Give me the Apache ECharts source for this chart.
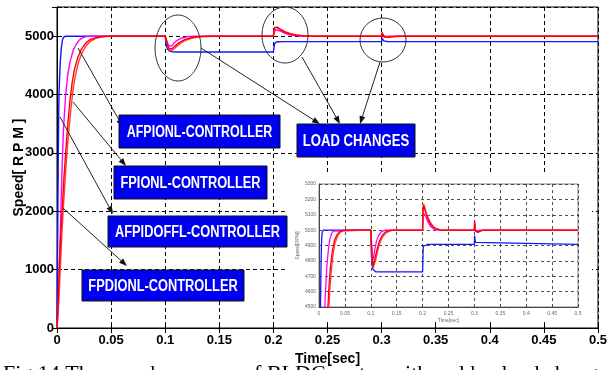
<!DOCTYPE html>
<html><head><meta charset="utf-8">
<script src="https://cdn.jsdelivr.net/npm/echarts@6/dist/echarts.min.js"></script>
<style>html,body{margin:0;padding:0;background:#fff}#c{width:608px;height:370px}</style>
</head><body><div id="c"></div>
<script>
// ---- data (time [s], speed [RPM]) ----
const xTicks = [0, 0.05, 0.1, 0.15, 0.2, 0.25, 0.3, 0.35, 0.4, 0.45, 0.5];
const yTicks = [0, 1000, 2000, 3000, 4000, 5000];
const insetYTicks = [4500, 4600, 4700, 4800, 4900, 5000, 5100, 5200, 5300];

const blueSpeed = [[0,0],[0.0004,900],[0.0008,2000],[0.0012,3000],[0.0016,3700],[0.002,4100],[0.003,4550],[0.004,4800],[0.005,4930],[0.006,4980],[0.008,5000],
  [0.1,5000],[0.1008,4870],[0.102,4780],[0.104,4745],[0.107,4732],[0.11,4728],[0.2,4728],[0.2005,4800],[0.201,4870],[0.2015,4895],[0.203,4905],[0.21,4907],
  [0.3,4907],[0.3004,4965],[0.3008,4950],[0.302,4920],[0.305,4908],[0.5,4907]];

const magentaSpeed = [[0,0],[0.001,300],[0.002,900],[0.003,1600],[0.004,2300],[0.005,2900],[0.006,3400],[0.008,4000],[0.01,4350],[0.012,4560],[0.015,4760],[0.018,4870],[0.021,4940],[0.024,4975],[0.027,4993],[0.03,5000],
  [0.1,5000],[0.1015,4920],[0.103,4840],[0.1045,4810],[0.106,4830],[0.108,4880],[0.111,4930],[0.115,4965],[0.12,4988],[0.126,4998],[0.13,5000],
  [0.2,5000],[0.2008,5060],[0.2016,5110],[0.203,5120],[0.206,5090],[0.21,5055],[0.215,5025],[0.22,5010],[0.226,5002],[0.23,5000],
  [0.3,5000],[0.3005,5040],[0.301,5010],[0.303,4995],[0.306,4998],[0.31,5000],[0.5,5000]];

const redSpeedA = [[0,0],[0.001,400],[0.002,1000],[0.0035,1600],[0.005,2100],[0.0065,2600],[0.008,3000],[0.01,3500],[0.012,3900],[0.014,4200],[0.016,4420],[0.019,4620],[0.022,4760],[0.026,4870],[0.03,4935],[0.035,4972],[0.04,4990],[0.045,4997],[0.05,5000],
  [0.1,5000],[0.1015,4900],[0.103,4800],[0.1045,4770],[0.106,4780],[0.109,4830],[0.113,4890],[0.118,4940],[0.123,4970],[0.128,4987],[0.134,4996],[0.14,5000],
  [0.2,5000],[0.2005,5080],[0.201,5140],[0.2018,5160],[0.203,5150],[0.206,5115],[0.21,5075],[0.215,5040],[0.22,5020],[0.226,5008],[0.233,5002],[0.24,5000],
  [0.3,5000],[0.3004,5065],[0.3008,5040],[0.302,4995],[0.304,4982],[0.307,4985],[0.312,4995],[0.318,5000],[0.5,5000]];

const redSpeedB = [[0,0],[0.0015,400],[0.003,1000],[0.0045,1600],[0.006,2100],[0.0075,2550],[0.009,2950],[0.011,3400],[0.013,3780],[0.015,4100],[0.017,4330],[0.02,4560],[0.023,4710],[0.027,4840],[0.031,4915],[0.036,4962],[0.041,4985],[0.047,4996],[0.053,5000],
  [0.1,5000],[0.1015,4880],[0.103,4790],[0.105,4755],[0.107,4765],[0.11,4815],[0.114,4875],[0.119,4930],[0.124,4962],[0.13,4984],[0.137,4995],[0.145,5000],
  [0.2,5000],[0.2005,5090],[0.201,5150],[0.202,5170],[0.2035,5155],[0.207,5115],[0.211,5078],[0.216,5045],[0.221,5022],[0.227,5009],[0.235,5002],[0.242,5000],
  [0.3,5000],[0.3004,5050],[0.301,5020],[0.302,4992],[0.304,4985],[0.308,4990],[0.313,4997],[0.32,5000],[0.5,5000]];

const controllerLabels = ['AFPIONL-CONTROLLER', 'FPIONL-CONTROLLER', 'AFPIDOFFL-CONTROLLER', 'FPDIONL-CONTROLLER'];
const loadLabel = 'LOAD CHANGES';
const xName = 'Time[sec]';
const yName = 'Speed[ R P M ]';
const caption = 'Fig.14 The speed response of BLDC motor with sudden load changes';

// ---- chart ----
const FONT = "'Liberation Sans',Arial,sans-serif";
const chart = echarts.init(document.getElementById('c'), null, {renderer: 'canvas'});

const fmt = v => String(+v.toFixed(2));
const dashed = {show: true, lineStyle: {color: '#000', type: [4, 3], width: 1}};
const insetDashed = {show: true, lineStyle: {color: '#222', type: [3, 3], width: 0.8}};

function arrow(x1, y1, x2, y2) {
  const a = Math.atan2(y2 - y1, x2 - x1), L = 8, W = 3;
  const bx = x2 - L * Math.cos(a), by = y2 - L * Math.sin(a);
  return [
    {type: 'line', z: 20, shape: {x1, y1, x2: bx, y2: by}, style: {stroke: '#222', lineWidth: 1}},
    {type: 'polygon', z: 20, shape: {points: [[x2, y2], [bx + W * Math.sin(a), by - W * Math.cos(a)], [bx - W * Math.sin(a), by + W * Math.cos(a)]]}, style: {fill: '#111'}}
  ];
}
function box(x1, y1, x2, y2, label, size, sx) {
  return [
    {type: 'rect', z: 20, shape: {x: x1, y: y1, width: x2 - x1, height: y2 - y1}, style: {fill: '#0000f0', stroke: '#111', lineWidth: 1}},
    {type: 'text', z: 21, x: (x1 + x2) / 2, y: (y1 + y2) / 2 + 1, scaleX: sx, scaleY: 1,
     style: {text: label, x: 0, y: 0, align: 'center', verticalAlign: 'middle', fill: '#fff', fontSize: size, fontWeight: 'bold', fontFamily: FONT}}
  ];
}

const graphics = [].concat(
  [{type: 'rect', z: 5, shape: {x: 287, y: 174, width: 305, height: 147}, style: {fill: '#fff'}}],
  [{type: 'ellipse', z: 20, shape: {cx: 178, cy: 48, rx: 23, ry: 33}, style: {fill: 'none', stroke: '#333', lineWidth: 1}},
   {type: 'ellipse', z: 20, shape: {cx: 285, cy: 35, rx: 23, ry: 28}, style: {fill: 'none', stroke: '#333', lineWidth: 1}},
   {type: 'ellipse', z: 20, shape: {cx: 383, cy: 40, rx: 23, ry: 22}, style: {fill: 'none', stroke: '#333', lineWidth: 1}}],
  arrow(201, 48, 320, 124), arrow(302, 57, 340, 124), arrow(380, 62, 360, 124),
  arrow(78, 48, 123, 127), arrow(73, 102, 126, 166), arrow(60, 117, 113, 214), arrow(63, 208, 127, 266),
  box(119, 115, 280, 148, controllerLabels[0], 16, 0.78),
  box(114, 166, 267, 199, controllerLabels[1], 16, 0.8),
  box(108, 216, 287, 247, controllerLabels[2], 16, 0.8),
  box(82, 270, 244, 301, controllerLabels[3], 16, 0.8),
  box(297, 124, 415, 157, loadLabel, 16, 0.82),
  [{type: 'text', z: 20, style: {text: caption, x: 3, y: 363, fill: '#000', fontSize: 22, fontFamily: "'Liberation Serif','Times New Roman',serif"}}]
);

const mainSeries = [
  {data: blueSpeed, color: '#1515ff'},
  {data: magentaSpeed, color: '#ff00ff'},
  {data: redSpeedB, color: '#ff3b3b'},
  {data: redSpeedA, color: '#ff0000'}
];

const option = {
  animation: false,
  backgroundColor: '#fff',
  grid: [
    {left: 57, right: 10, top: 7, bottom: 42, outerBoundsMode: 'none', containLabel: false, show: true, borderColor: '#000', borderWidth: 1, backgroundColor: 'transparent'},
    {left: 319, top: 184, width: 259, height: 123, outerBoundsMode: 'none', containLabel: false, show: true, borderColor: '#888', borderWidth: 1, z: 6}
  ],
  xAxis: [
    {type: 'value', gridIndex: 0, min: 0, max: 0.5, interval: 0.05, position: 'bottom',
     axisLine: {show: true, lineStyle: {color: '#000', width: 1}}, axisTick: {show: true, inside: true, length: 5, lineStyle: {color: '#000'}},
     axisLabel: {color: '#000', fontSize: 13, fontWeight: 'bold', fontFamily: FONT, margin: 6, formatter: fmt, showMaxLabel: true},
     splitLine: dashed,
     name: xName, nameLocation: 'middle', nameGap: 23, nameTextStyle: {color: '#000', fontSize: 14, fontWeight: 'bold', fontFamily: FONT}},
    {type: 'value', gridIndex: 0, min: 0, max: 0.5, interval: 0.05, position: 'top',
     axisLine: {show: false}, axisTick: {show: true, inside: true, length: 5, lineStyle: {color: '#000'}}, axisLabel: {show: false}, splitLine: {show: false}},
    {type: 'value', gridIndex: 1, min: 0, max: 0.5, interval: 0.05, z: 6,
     axisLine: {show: true, lineStyle: {color: '#444', width: 1}}, axisTick: {show: false},
     axisLabel: {color: '#666', fontSize: 5, margin: 4, formatter: fmt},
     splitLine: insetDashed,
     name: xName, nameLocation: 'middle', nameGap: 11, nameTextStyle: {color: '#666', fontSize: 5}}
  ],
  yAxis: [
    {type: 'value', gridIndex: 0, min: 0, max: 5500, interval: 1000,
     axisLine: {show: true, lineStyle: {color: '#000', width: 1}}, axisTick: {show: true, inside: true, length: 5, lineStyle: {color: '#000'}},
     axisLabel: {color: '#000', fontSize: 13, fontWeight: 'bold', fontFamily: FONT, margin: 3, formatter: v => yTicks.includes(v) ? String(v) : ''},
     splitLine: dashed,
     name: yName, nameLocation: 'middle', nameGap: 31, nameRotate: 90, nameMoveOverlap: false,
     nameTextStyle: {color: '#000', fontSize: 14, fontWeight: 'bold', fontFamily: FONT}},
    {type: 'value', gridIndex: 0, min: 0, max: 5500, interval: 1000, position: 'right',
     axisLine: {show: false}, axisTick: {show: true, inside: true, length: 5, lineStyle: {color: '#000'}}, axisLabel: {show: false}, splitLine: {show: false}},
    {type: 'value', gridIndex: 1, min: 4500, max: 5300, interval: 100, z: 6,
     axisLine: {show: true, lineStyle: {color: '#444', width: 1}}, axisTick: {show: false},
     axisLabel: {color: '#666', fontSize: 5, margin: 3, formatter: v => insetYTicks.includes(v) ? String(v) : ''},
     splitLine: insetDashed,
     name: yName.replace(/ /g, ''), nameLocation: 'middle', nameGap: 19, nameRotate: 90, nameTextStyle: {color: '#666', fontSize: 5}}
  ],
  series: [].concat(
    mainSeries.map(s => ({type: 'line', xAxisIndex: 0, yAxisIndex: 0, data: s.data, symbol: 'none', z: 3,
      lineStyle: {color: s.color, width: 1.4}, itemStyle: {color: s.color}})),
    mainSeries.map(s => ({type: 'line', xAxisIndex: 2, yAxisIndex: 2, data: s.data, symbol: 'none', z: 7, clip: true,
      lineStyle: {color: s.color, width: 1.3}, itemStyle: {color: s.color}}))
  ),
  graphic: {elements: graphics}
};
chart.setOption(option);
</script>
</body></html>
